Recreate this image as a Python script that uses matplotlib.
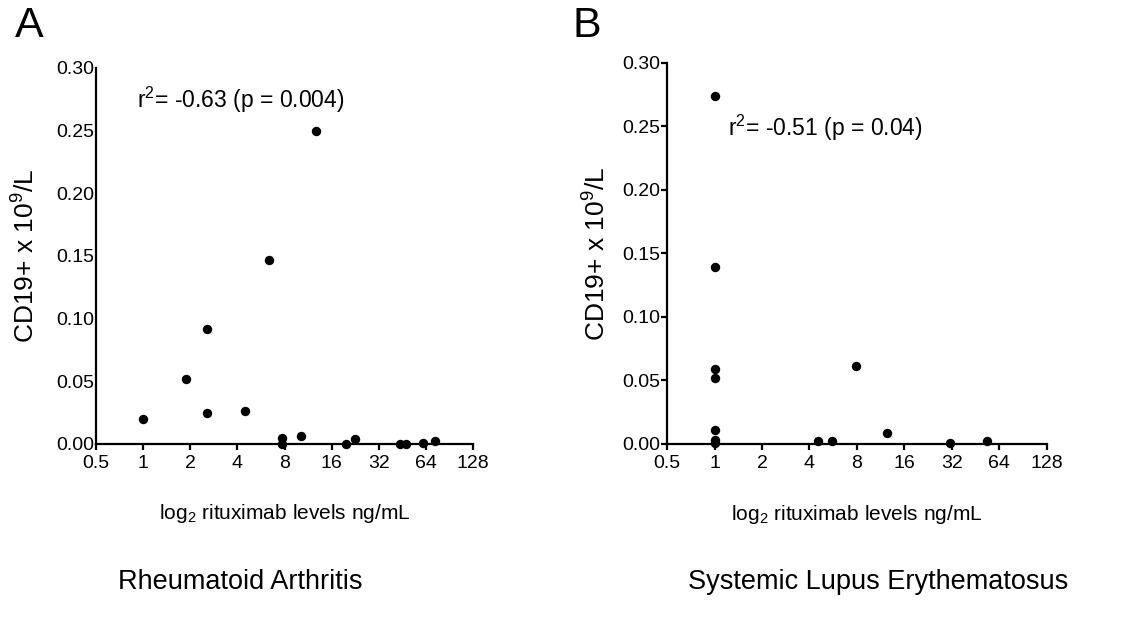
"""Two-panel scatter: CD19+ counts vs rituximab levels (RA and SLE)."""

import matplotlib
matplotlib.use("Agg")
import matplotlib.pyplot as plt
from matplotlib import font_manager

plt.rcParams["font.family"] = ["Liberation Sans", "DejaVu Sans"]
plt.rcParams["mathtext.default"] = "regular"

# narrow face for the long labels, if the system has it
_names = {f.name for f in font_manager.fontManager.ttflist}
NARROW = "Liberation Sans Narrow" in _names
label_family = ["Liberation Sans Narrow", "Liberation Sans"] if NARROW \
    else ["Liberation Sans", "DejaVu Sans"]
xlabel_size = 18 if NARROW else 15
title_size = 23.5 if NARROW else 19.5

# Panel A - Rheumatoid Arthritis
ra_rtx = [1.0, 1.89, 2.57, 2.57, 4.48, 6.38, 12.8, 7.69, 7.69, 10.2,
          19.8, 22.4, 44.0, 47.6, 61.5, 72.8]
ra_cd19 = [0.020, 0.052, 0.092, 0.025, 0.026, 0.147, 0.250, 0.005, 0.000,
           0.006, 0.000, 0.004, 0.000, 0.000, 0.001, 0.002]

# Panel B - Systemic Lupus Erythematosus
sle_rtx = [1.0, 1.0, 1.0, 1.0, 1.0, 1.0, 1.0, 4.5, 5.6, 7.95, 12.5, 31.1, 53.6]
sle_cd19 = [0.274, 0.139, 0.059, 0.052, 0.011, 0.003, 0.001, 0.002, 0.002,
            0.061, 0.009, 0.001, 0.002]

x_ticks = [0.5, 1, 2, 4, 8, 16, 32, 64, 128]
x_ticklabels = ["0.5", "1", "2", "4", "8", "16", "32", "64", "128"]
y_ticks = [0.00, 0.05, 0.10, 0.15, 0.20, 0.25, 0.30]

panels = [
    ("A", "Rheumatoid Arthritis", ra_rtx, ra_cd19,
     "r$^2$= -0.63 (p = 0.004)", [0.0856, 0.293, 0.336, 0.599], 0, 12),
    ("B", "Systemic Lupus Erythematosus", sle_rtx, sle_cd19,
     "r$^2$= -0.51 (p = 0.04)", [0.5945, 0.293, 0.3385, 0.607], 4, 8),
]
annot_pos = {"A": (137, 100), "B": (728, 128)}
letter_pos = {"A": (15, 26), "B": (573, 26)}
title_x = {"A": 240, "B": 878}

fig = plt.figure(figsize=(11.22, 6.28), dpi=100)
W, H = 1122, 628

for letter, title, xs, ys, annot, rect, ytick_len, ypad in panels:
    ax = fig.add_axes(rect)
    ax.scatter(xs, ys, s=46, color="black", zorder=3, clip_on=False,
               linewidths=0)
    ax.set_xscale("log", base=2)
    ax.set_xlim(0.5, 128)
    ax.set_ylim(0, 0.30)
    ax.set_xticks(x_ticks)
    ax.set_xticklabels(x_ticklabels)
    ax.minorticks_off()
    ax.set_yticks(y_ticks)
    ax.set_yticklabels([f"{v:.2f}" for v in y_ticks])
    for side in ("top", "right"):
        ax.spines[side].set_visible(False)
    for side in ("left", "bottom"):
        ax.spines[side].set_linewidth(1.6)
    ax.tick_params(axis="x", length=4, width=1.6, labelsize=14, pad=4)
    ax.tick_params(axis="y", length=ytick_len, width=1.6, labelsize=14,
                   pad=1)
    ax.set_ylabel("CD19+ x 10$^9$/L", fontsize=19, labelpad=ypad)
    ax.set_xlabel("log$_2$ rituximab levels ng/mL", fontsize=xlabel_size,
                  family=label_family)
    ax.xaxis.set_label_coords(0.5, -0.155)

    ax_x, ax_y = annot_pos[letter]
    fig.text(ax_x / W, 1 - ax_y / H, annot, fontsize=16.5, va="center",
             ha="left")
    lx, ly = letter_pos[letter]
    fig.text(lx / W, 1 - ly / H, letter, fontsize=31, va="center", ha="left")
    fig.text(title_x[letter] / W, 1 - 582 / H, title, fontsize=title_size,
             family=label_family, va="center", ha="center")

fig.savefig("out.png", dpi=100)
plt.close(fig)
